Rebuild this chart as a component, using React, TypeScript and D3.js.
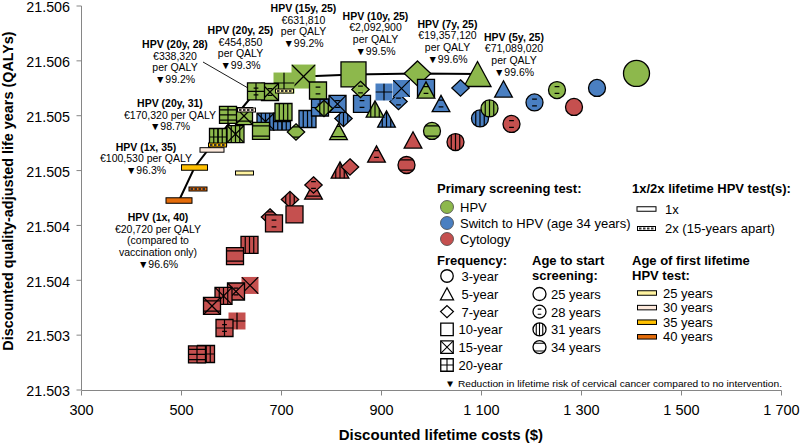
import React from "react";
import * as d3 from "d3";

const xTickValues = [300, 500, 700, 900, 1100, 1300, 1500, 1700];
const xTickLabels = ["300", "500", "700", "900", "1 100", "1 300", "1 500", "1 700"];
const yTickValues = [21.5025, 21.503, 21.5035, 21.504, 21.5045, 21.505, 21.5055, 21.506];
const yTickLabels = ["21.503", "21.503", "21.504", "21.504", "21.505", "21.505", "21.506", "21.506"];

// [screening frequency (years), age to start screening, discounted cost ($), discounted QALYs]
const hpvPrimary: [number, number, number, number][] = [
  [3, 25, 1410, 21.505385],
  [3, 28, 1251, 21.505234],
  [3, 31, 1116, 21.505066],
  [3, 34, 1001, 21.504861],
  [5, 25, 1092, 21.50538],
  [5, 28, 989, 21.505234],
  [5, 31, 887, 21.505061],
  [5, 34, 814, 21.504856],
  [7, 25, 972, 21.505385],
  [7, 28, 858, 21.505239],
  [7, 31, 785, 21.505066],
  [7, 34, 729, 21.504852],
  [10, 25, 844, 21.505376],
  [10, 28, 773, 21.50523],
  [10, 31, 704, 21.505034],
  [10, 34, 659, 21.504861],
  [15, 25, 744, 21.505357],
  [15, 28, 677, 21.505216],
  [15, 31, 608, 21.504833],
  [15, 34, 625, 21.504997],
  [20, 25, 705, 21.505298],
  [20, 28, 649, 21.505221],
  [20, 31, 573, 21.504806],
  [20, 34, 593, 21.505007],
];

const switchToHpv: [number, number, number, number][] = [
  [3, 25, 1331, 21.505253],
  [3, 28, 1206, 21.505121],
  [3, 31, 1097, 21.504975],
  [5, 25, 1144, 21.505244],
  [5, 28, 1019, 21.505111],
  [5, 31, 910, 21.50497],
  [7, 25, 1058, 21.505253],
  [7, 28, 934, 21.50513],
  [7, 31, 824, 21.504975],
  [10, 25, 989, 21.505253],
  [10, 28, 861, 21.505107],
  [10, 31, 752, 21.50497],
  [15, 25, 940, 21.505248],
  [15, 28, 812, 21.505107],
  [15, 31, 668, 21.504947],
  [20, 25, 905, 21.505216],
  [20, 28, 777, 21.505075],
  [20, 31, 701, 21.504947],
];

const cytology: [number, number, number, number][] = [
  [3, 25, 1285, 21.50508],
  [3, 28, 1160, 21.504925],
  [3, 31, 1048, 21.50476],
  [3, 34, 950, 21.504551],
  [5, 25, 963, 21.504779],
  [5, 28, 890, 21.504651],
  [5, 31, 817, 21.504505],
  [5, 34, 764, 21.504314],
  [7, 25, 837, 21.504533],
  [7, 28, 764, 21.504369],
  [7, 31, 717, 21.504236],
  [7, 34, 677, 21.504077],
  [10, 25, 726, 21.5041],
  [10, 28, 685, 21.504018],
  [10, 31, 636, 21.503822],
  [10, 34, 607, 21.503721],
  [15, 25, 637, 21.503453],
  [15, 28, 609, 21.503398],
  [15, 31, 584, 21.503357],
  [15, 34, 561, 21.503266],
  [20, 25, 611, 21.503129],
  [20, 28, 586, 21.503065],
  [20, 31, 549, 21.502828],
  [20, 34, 531, 21.502824],
];

// [number of lifetime HPV tests, age of first test, cost, QALYs]
const lifetimeTests: [number, number, number, number][] = [
  [1, 40, 495, 21.504227],
  [2, 40, 533, 21.504332],
  [1, 35, 526, 21.504528],
  [2, 35, 572, 21.504733],
  [1, 30, 561, 21.504688],
  [2, 30, 630, 21.505052],
  [1, 25, 626, 21.504478],
  [2, 25, 706, 21.505225],
];

const frontierIds = ["L1-40", "L1-35", "H20-31", "H20-28", "H20-25", "H15-25", "H10-25", "H7-25", "H5-25"];

const annotations: { x: number; y: number; lines: string[] }[] = [
  { x: 303.5, y: 12, lines: ["HPV (15y, 25)", "€631,810", "per QALY", "▼99.2%"] },
  { x: 375.5, y: 19.5, lines: ["HPV (10y, 25)", "€2,092,900", "per QALY", "▼99.5%"] },
  { x: 447.5, y: 27.5, lines: ["HPV (7y, 25)", "€19,357,120", "per QALY", "▼99.6%"] },
  { x: 514, y: 40.5, lines: ["HPV (5y, 25)", "€71,089,020", "per QALY", "▼99.6%"] },
  { x: 240.5, y: 34, lines: ["HPV (20y, 25)", "€454,850", "per QALY", "▼99.3%"] },
  { x: 175, y: 48, lines: ["HPV (20y, 28)", "€338,320", "per QALY", "▼99.2%"] },
  { x: 170, y: 107, lines: ["HPV (20y, 31)", "€170,320 per QALY", "▼98.7%"] },
  { x: 146, y: 150.5, lines: ["HPV (1x, 35)", "€100,530 per QALY", "▼96.3%"] },
  { x: 158, y: 221, lines: ["HPV (1x, 40)", "€20,720 per QALY", "(compared to", "vaccination only)", "▼96.6%"] },
];

const primaryLegend = ["HPV", "Switch to HPV (age 34 years)", "Cytology"];
const frequencyLegend = [3, 5, 7, 10, 15, 20];
const frequencyLabels = ["3-year", "5-year", "7-year", "10-year", "15-year", "20-year"];
const startAgeLegend = [25, 28, 31, 34];
const firstTestAgeLegend = [25, 30, 35, 40];

const GREEN = "#8db84c";
const BLUE = "#4a7fc1";
const RED = "#c5504f";
const BAR_COLORS: Record<number, string> = { 25: "#fff3a0", 30: "#fde9dc", 35: "#ffc000", 40: "#e46c0a" };
const FONT = "'Liberation Sans', Arial, sans-serif";

const bigSizes: Record<string, number> = {
  "H3-25": 26, "H5-25": 26, "H7-25": 26, "H10-25": 25, "H15-25": 24, "H20-25": 21,
};

function shapePath(freq: number, s: number): string {
  if (freq === 3) {
    const r = s / 2;
    return `M${-r},0A${r},${r} 0 1 0 ${r},0A${r},${r} 0 1 0 ${-r},0Z`;
  }
  if (freq === 5) {
    const w = s * 1.04, h = s * 0.96;
    return `M0,${-h / 2}L${w / 2},${h / 2}L${-w / 2},${h / 2}Z`;
  }
  if (freq === 7) {
    const w = s * 1.02, h = s * 0.96;
    return `M0,${-h / 2}L${w / 2},0L0,${h / 2}L${-w / 2},0Z`;
  }
  const h = s / 2;
  return `M${-h},${-h}H${h}V${h}H${-h}Z`;
}

function patternLines(freq: number, age: number, s: number): number[][] {
  const L: number[][] = [];
  const h = s / 2;
  if (freq === 15) {
    L.push([-h, -h, h, h], [-h, h, h, -h]);
  } else if (freq === 20) {
    L.push([0, -h, 0, h], [-h, 0, h, 0]);
  }
  if (age === 28) {
    L.push([-0.14 * s, -0.2 * s, 0.14 * s, -0.2 * s], [-0.14 * s, 0.2 * s, 0.14 * s, 0.2 * s]);
  } else if (age === 31) {
    L.push([-0.25 * s, -s, -0.25 * s, s], [0, -s, 0, s], [0.25 * s, -s, 0.25 * s, s]);
  } else if (age === 34) {
    L.push([-s, -0.3 * s, s, -0.3 * s], [-s, 0.3 * s, s, 0.3 * s]);
  }
  return L;
}

function Marker(props: { id: string; freq: number; age: number; cx: number; cy: number; s: number; fill: string; border: boolean; lw?: number }) {
  const { id, freq, age, cx, cy, s, fill, border } = props;
  const d = shapePath(freq, s);
  const lines = patternLines(freq, age, s);
  const clipId = `clip-${id}`;
  return (
    <g transform={`translate(${cx},${cy})`}>
      <clipPath id={clipId}>
        <path d={d} />
      </clipPath>
      <path d={d} fill={fill} />
      <g clipPath={`url(#${clipId})`} stroke="#000" strokeWidth={props.lw ?? 1.2}>
        {lines.map((l, i) => (
          <line key={i} x1={l[0]} y1={l[1]} x2={l[2]} y2={l[3]} />
        ))}
      </g>
      {border && <path d={d} fill="none" stroke="#000" strokeWidth={1.3} />}
    </g>
  );
}

function Bar(props: { cx: number; cy: number; w: number; h: number; fill: string; twice: boolean }) {
  const { cx, cy, w, h, fill, twice } = props;
  return (
    <g>
      <rect x={cx - w / 2} y={cy - h / 2} width={w} height={h} fill={fill} stroke="#000" strokeWidth={1} />
      {twice && (
        <line x1={cx - w / 2 + 1.5} x2={cx + w / 2 - 1.5} y1={cy} y2={cy} stroke="#333" strokeWidth={Math.max(1.5, h - 2)} strokeDasharray="2.5,1.5" />
      )}
    </g>
  );
}

export default function App() {
  const W = 800;
  const H = 445;
  const x = d3.scaleLinear().domain([300, 1700]).range([81.5, 781.5]);
  const y = d3.scaleLinear().domain([21.5025, 21.506]).range([390, 6]);

  type P = { id: string; freq: number; age: number; cost: number; q: number; fill: string };
  const mk = (arr: [number, number, number, number][], pre: string, fill: string): P[] =>
    arr.map(([freq, age, cost, q]) => ({ id: `${pre}${freq}-${age}`, freq, age, cost, q, fill }));
  const green = mk(hpvPrimary, "H", GREEN);
  const blue = mk(switchToHpv, "S", BLUE);
  const red = mk(cytology, "C", RED);
  const all = [...green, ...blue, ...red];
  const bars = lifetimeTests.map(([n, age, cost, q]) => ({ id: `L${n}-${age}`, n, age, cost, q }));

  const lookup: Record<string, [number, number]> = {};
  all.forEach((p) => (lookup[p.id] = [p.cost, p.q]));
  bars.forEach((b) => (lookup[b.id] = [b.cost, b.q]));
  const line = d3
    .line<[number, number]>()
    .x((d) => x(d[0]))
    .y((d) => y(d[1]));
  const frontierPath = line(frontierIds.map((id) => lookup[id])) || "";

  const big = all.filter((p) => bigSizes[p.id] !== undefined);
  const small = [...red, ...blue, ...green].filter((p) => bigSizes[p.id] === undefined);

  const renderMarker = (p: P) => (
    <Marker
      key={p.id}
      id={p.id}
      freq={p.freq}
      age={p.age}
      cx={x(p.cost)}
      cy={y(p.q)}
      s={bigSizes[p.id] ?? 17}
      fill={p.fill}
      border={!((p.freq === 15 || p.freq === 20) && p.age === 25)}
    />
  );

  const barSize = (id: string): [number, number] => {
    if (id === "L1-40" || id === "L1-35") return [26, 5.5];
    if (id === "L1-30") return [24, 4.5];
    return [18, 4];
  };

  const lh = 11.7;

  return (
    <svg width={W} height={H} style={{ position: "absolute", left: 0, top: 0, background: "#fff" }} fontFamily={FONT}>
      <rect x={0} y={0} width={W} height={H} fill="#fff" />
      {/* axes */}
      <line x1={81.5} x2={81.5} y1={6} y2={390} stroke="#868686" strokeWidth={1} />
      <line x1={81.5} x2={781.5} y1={390.5} y2={390.5} stroke="#868686" strokeWidth={1} />
      {yTickValues.map((v, i) => (
        <g key={`yt${i}`}>
          <line x1={76.5} x2={81.5} y1={y(v)} y2={y(v)} stroke="#868686" />
          <text x={70} y={y(v) + 1.2} dy="0.36em" textAnchor="end" fontSize={14.3} fill="#000">
            {yTickLabels[i]}
          </text>
        </g>
      ))}
      {xTickValues.map((v, i) => (
        <g key={`xt${i}`}>
          <line x1={x(v)} x2={x(v)} y1={390.5} y2={395.5} stroke="#868686" />
          <text x={x(v)} y={415} textAnchor="middle" fontSize={14.5} fill="#000">
            {xTickLabels[i]}
          </text>
        </g>
      ))}
      <text x={543} y={440} textAnchor="end" fontSize={15} fontWeight="bold">
        Discounted lifetime costs ($)
      </text>
      <text transform="translate(13,191) rotate(-90)" textAnchor="middle" fontSize={14.4} fontWeight="bold">
        Discounted quality-adjusted life years (QALYs)
      </text>

      {/* efficiency frontier */}
      <path d={frontierPath} fill="none" stroke="#000" strokeWidth={2} />

      {big.map(renderMarker)}
      {small.map(renderMarker)}

      {bars.map((b) => {
        const [w, h] = barSize(b.id);
        return <Bar key={b.id} cx={x(b.cost)} cy={y(b.q)} w={w} h={h} fill={BAR_COLORS[b.age]} twice={b.n === 2} />;
      })}

      {/* annotations */}
      <line x1={203} y1={62} x2={248} y2={88} stroke="#000" strokeWidth={0.9} />
      {annotations.map((a, i) => (
        <text key={`an${i}`} textAnchor="middle" fontSize={10.5} fill="#000">
          {a.lines.map((t, j) => (
            <tspan key={j} x={a.x} y={a.y + j * lh} fontWeight={j === 0 ? "bold" : "normal"}>
              {t}
            </tspan>
          ))}
        </text>
      ))}

      {/* legend */}
      <g fontSize={13} fill="#000">
        <text x={437} y={193} fontWeight="bold">Primary screening test:</text>
        {primaryLegend.map((t, i) => (
          <g key={`pl${i}`}>
            <circle cx={447} cy={207 + i * 16} r={6.5} fill={[GREEN, BLUE, RED][i]} stroke="#444" strokeWidth={0.8} />
            <text x={460} y={212 + i * 16}>{t}</text>
          </g>
        ))}

        <text x={632} y={193} fontWeight="bold">1x/2x lifetime HPV test(s):</text>
        <Bar cx={646.5} cy={209} w={19} h={4.5} fill="#fff" twice={false} />
        <text x={665} y={213.5}>1x</text>
        <Bar cx={646.5} cy={228.5} w={18} h={4} fill="#fff" twice={true} />
        <text x={665} y={233}>2x (15-years apart)</text>

        <text x={437} y={265} fontWeight="bold">Frequency:</text>
        {frequencyLegend.map((f, i) => (
          <g key={`fl${i}`}>
            <Marker id={`lf${f}`} freq={f} age={25} cx={447} cy={276 + i * 17.8} s={12.5} fill="#fff" border={true} lw={1.1} />
            <text x={f >= 10 ? 458.5 : 461.5} y={281 + i * 17.8}>{frequencyLabels[i]}</text>
          </g>
        ))}

        <text x={532} y={265} fontWeight="bold">Age to start</text>
        <text x={532} y={280} fontWeight="bold">screening:</text>
        {startAgeLegend.map((a, i) => (
          <g key={`al${i}`}>
            <Marker id={`la${a}`} freq={3} age={a} cx={539.5} cy={294 + i * 17.7} s={13} fill="#fff" border={true} lw={1.1} />
            <text x={551} y={299 + i * 17.7}>{`${a} years`}</text>
          </g>
        ))}

        <text x={632} y={265} fontWeight="bold">Age of first lifetime</text>
        <text x={632} y={280} fontWeight="bold">HPV test:</text>
        {firstTestAgeLegend.map((a, i) => (
          <g key={`bl${i}`}>
            <Bar cx={647} cy={293 + i * 14.6} w={19} h={4.5} fill={BAR_COLORS[a]} twice={false} />
            <text x={663} y={297.5 + i * 14.6}>{`${a} years`}</text>
          </g>
        ))}
      </g>
      <text x={445} y={387} fontSize={9.5} textLength={337} lengthAdjust="spacingAndGlyphs">
        ▼ Reduction in lifetime risk of cervical cancer compared to no intervention.
      </text>
    </svg>
  );
}
